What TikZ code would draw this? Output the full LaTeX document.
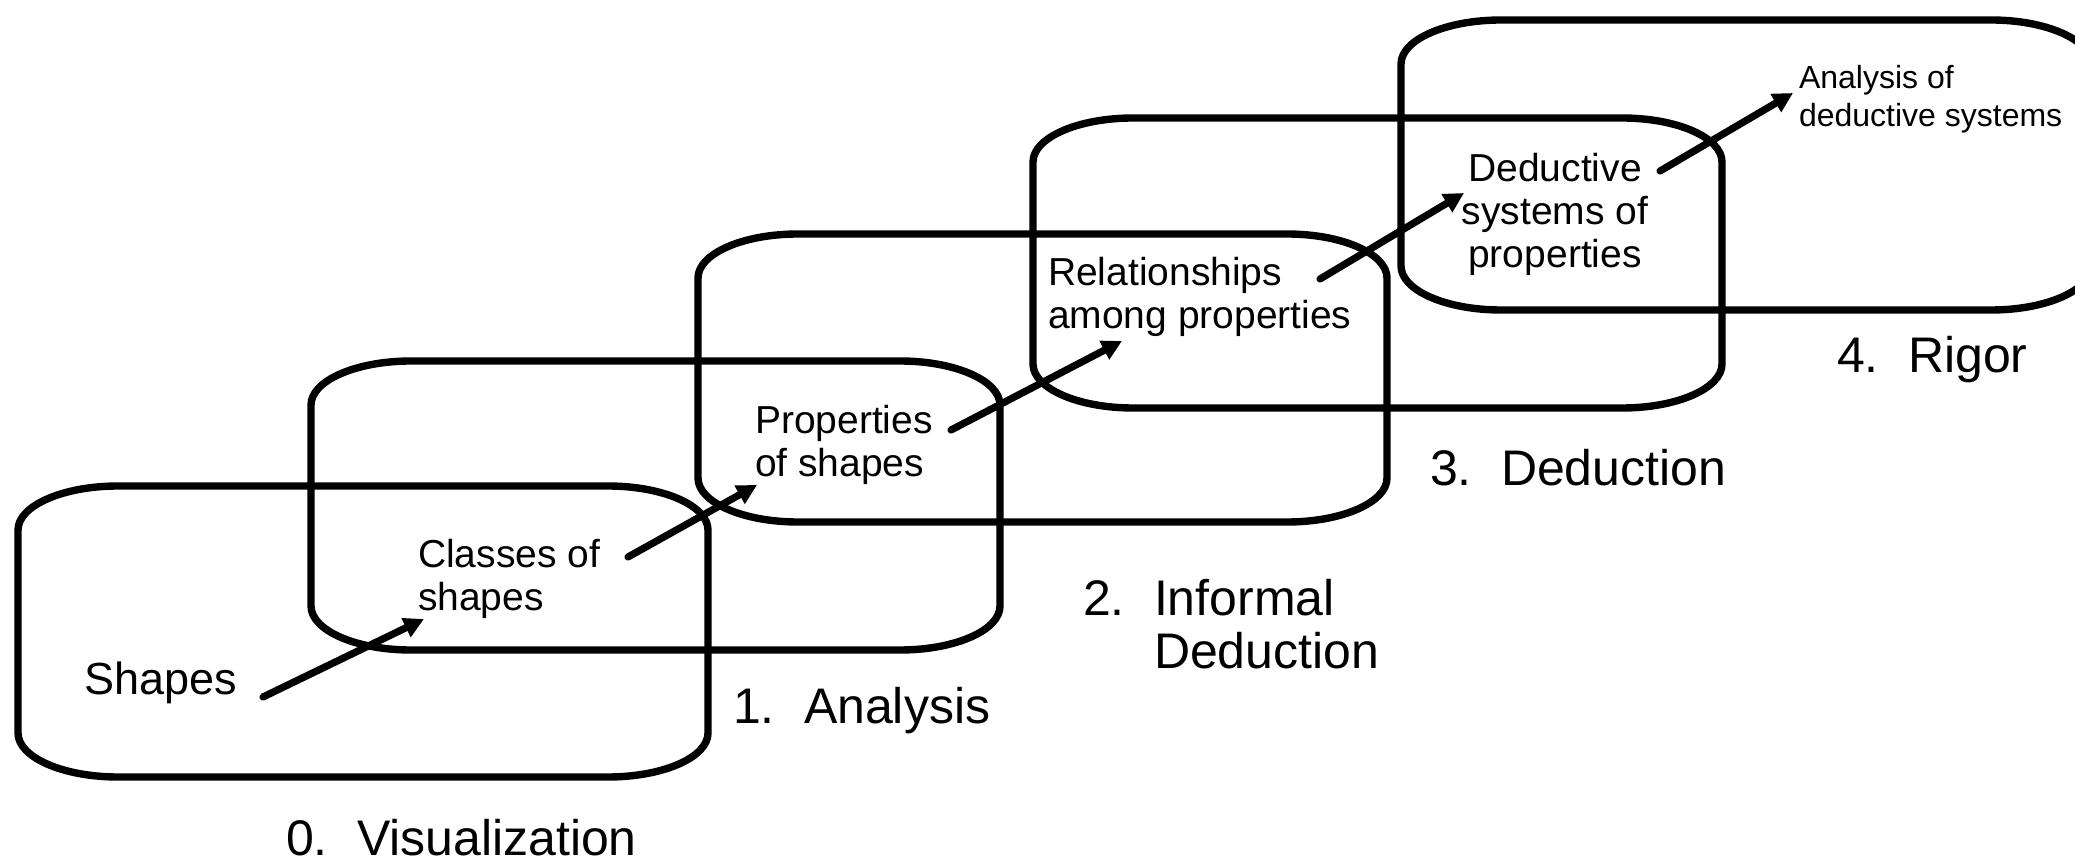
\documentclass[tikz,border=0pt]{standalone}
\usepackage{fontspec}
\setmainfont{Liberation Sans}
\usetikzlibrary{arrows.meta,calc}
\tikzset{
  stageframe/.style={line width=3.7pt, line join=round},
  stepline/.style={line width=3.6pt, line cap=round, -{Triangle[length=10pt,width=10pt]}},
  item/.style={inner sep=0pt, outer sep=0pt, anchor=north west, align=left, font=\fontsize{19.5pt}{21.5pt}\selectfont},
  bigitem/.style={item, font=\fontsize{22.5pt}{24pt}\selectfont},
  smallitem/.style={item, font=\fontsize{16pt}{19pt}\selectfont},
  level/.style={inner sep=0pt, outer sep=0pt, anchor=north west, align=left, font=\fontsize{25pt}{26.5pt}\selectfont},
}
% rounded frame with elliptical corners: left, top, right, bottom
\newcommand\lvlbox[4]{%
  \draw[stageframe] ({#1+100},#2) -- ({#3-100},#2)
    .. controls ({#3-44.77},#2) and (#3,{#2+19.7}) .. (#3,{#2+44})
    -- (#3,{#4-44})
    .. controls (#3,{#4-19.7}) and ({#3-44.77},#4) .. ({#3-100},#4)
    -- ({#1+100},#4)
    .. controls ({#1+44.77},#4) and (#1,{#4-19.7}) .. (#1,{#4-44})
    -- (#1,{#2+44})
    .. controls (#1,{#2+19.7}) and ({#1+44.77},#2) .. cycle;}
\newcommand\lvlnum[1]{\makebox[35.5pt][l]{#1}}
\begin{document}
\begin{tikzpicture}[x=0.5pt,y=-0.5pt]
\useasboundingbox (0,0) rectangle (2075,865);
\clip (0,0) rectangle (2075,865);
% stage frames
\lvlbox{18}{486}{708}{777}
\lvlbox{311}{361}{1000}{650}
\lvlbox{698}{234}{1387}{522}
\lvlbox{1033}{118}{1722}{408}
\lvlbox{1401}{20}{2091}{310}
% contents
\node[bigitem] (shapes) at (84,662) {Shapes};
\node[item] (classes) at (418,539) {Classes of\\shapes};
\node[item] (props) at (755,405) {Properties\\of shapes};
\node[item] (rel) at (1048,257) {Relationships\\among properties};
\node[item, anchor=north, align=center] (ded) at (1555,153) {Deductive\\systems of\\properties};
\node[smallitem] (anal) at (1799,65) {Analysis of\\deductive systems};
% level names
\node[level] (lv0) at (286,819) {\lvlnum{0.}Visualization};
\node[level] (lv1) at (733,687) {\lvlnum{1.}Analysis};
\node[level] (lv2) at (1083,579) {\lvlnum{2.}Informal\\\hspace*{35.5pt}Deduction};
\node[level] (lv3) at (1430,449) {\lvlnum{3.}Deduction};
\node[level] (lv4) at (1837,336) {\lvlnum{4.}Rigor};
% arrows
\draw[stepline] ($(shapes.north west)+(179,35)$) -- ($(classes.north west)+(6,80)$);
\draw[stepline] ($(classes.north west)+(210,18)$) -- ($(props.north west)+(2,80)$);
\draw[stepline] ($(props.north west)+(196,25)$) -- ($(rel.north west)+(74,84)$);
\draw[stepline] ($(rel.north west)+(272,22)$) -- ($(ded.north)+(-91,40)$);
\draw[stepline] ($(ded.north)+(105,18)$) -- ($(anal.north west)+(-6,28)$);
\end{tikzpicture}
\end{document}
